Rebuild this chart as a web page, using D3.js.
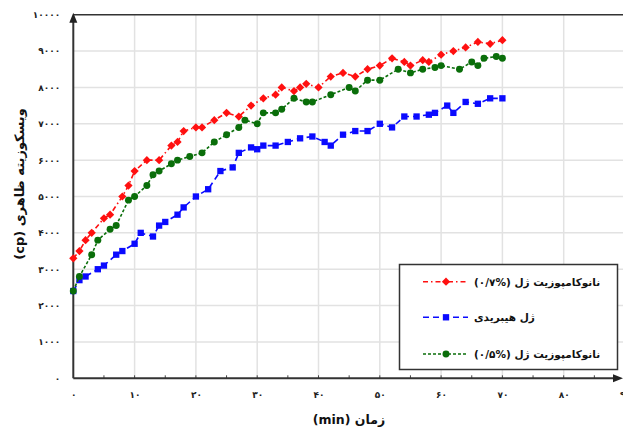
<!DOCTYPE html>
<html>
<head>
<meta charset="utf-8">
<script src="https://cdn.jsdelivr.net/npm/d3@7"></script>
<style>
	body { margin: 0; background: #fff; }
	svg { display: block; }
	text { font-family: "DejaVu Sans", sans-serif; font-weight: bold; }
</style>
</head>
<body>
<div id="chart-area"></div>
<script>

// data (time in min, viscosity in cp)
let redTime = [0,1,2,3,5,6,8,9,10,12,14,16,17,18,20,21,23,25,27,29,31,33,34,36,37,38,40,42,44,46,48,50,52,54,55,57,58,60,62,64,66,68,70];
let redVisc = [3300,3500,3800,4000,4400,4500,5000,5300,5700,6000,6000,6400,6500,6800,6900,6900,7100,7300,7200,7500,7700,7800,8000,7900,8000,8100,8000,8300,8400,8300,8500,8600,8800,8700,8600,8750,8700,8900,9000,9100,9250,9200,9300];

let blueTime = [0,1,2,4,5,7,8,10,11,13,14,15,17,18,20,22,24,26,27,29,30,31,33,35,37,39,41,42,44,46,48,50,52,54,56,58,59,61,62,64,66,68,70];
let blueVisc = [2400,2700,2800,3000,3100,3400,3500,3700,4000,3900,4200,4300,4500,4700,5000,5200,5700,5800,6200,6350,6300,6400,6400,6500,6600,6650,6500,6400,6700,6800,6800,7000,6900,7200,7200,7250,7300,7500,7300,7600,7550,7700,7700];

let greenTime = [0,1,3,4,6,7,9,10,12,13,14,16,17,19,21,23,25,27,28,30,31,33,34,36,38,39,42,45,46,48,50,53,55,57,59,60,63,65,66,67,69,70];
let greenVisc = [2400,2800,3400,3800,4100,4200,4900,5000,5300,5600,5700,5900,6000,6100,6200,6500,6700,6900,7100,7000,7300,7300,7400,7700,7600,7600,7800,8000,7900,8200,8200,8500,8400,8500,8550,8600,8500,8700,8600,8800,8850,8800];

let seriesNames = ["نانوکامپوزیت ژل (%۰/۷)", "ژل هیبریدی", "نانوکامپوزیت ژل (%۰/۵)"];

let xTicks = [0,10,20,30,40,50,60,70,80,90];
let xTickLabels = ["۰","۱۰","۲۰","۳۰","۴۰","۵۰","۶۰","۷۰","۸۰","۹۰"];
let yTicks = [0,1000,2000,3000,4000,5000,6000,7000,8000,9000,10000];
let yTickLabels = ["۰","۱۰۰۰","۲۰۰۰","۳۰۰۰","۴۰۰۰","۵۰۰۰","۶۰۰۰","۷۰۰۰","۸۰۰۰","۹۰۰۰","۱۰۰۰۰"];

let xTitle = "زمان (min)";
let yTitle = "ویسکوزیته ظاهری (cp)";

let width = 623, height = 430;

let svg = d3.select("#chart-area").append("svg")
	.attr("width", width)
	.attr("height", height);

let xScale = d3.scaleLinear().domain([0, 90]).range([73.3, 625]);
let yScale = d3.scaleLinear().domain([0, 10000]).range([378.3, 14.7]);

// gridlines
svg.append("g")
	.selectAll("line")
	.data(xTicks.slice(1))
	.enter().append("line")
	.attr("x1", d => xScale(d)).attr("x2", d => xScale(d))
	.attr("y1", yScale(0)).attr("y2", yScale(10000))
	.attr("stroke", "#e2e2e2").attr("stroke-width", 1.5);

svg.append("g")
	.selectAll("line")
	.data(yTicks.slice(1, -1))
	.enter().append("line")
	.attr("x1", xScale(0)).attr("x2", width)
	.attr("y1", d => yScale(d)).attr("y2", d => yScale(d))
	.attr("stroke", "#e2e2e2").attr("stroke-width", 1.5);

// top frame line
svg.append("line")
	.attr("x1", xScale(0)).attr("x2", width)
	.attr("y1", yScale(10000)).attr("y2", yScale(10000))
	.attr("stroke", "#333").attr("stroke-width", 1.5);

// x axis
let xAxis = d3.axisBottom(xScale)
	.tickValues(xTicks)
	.tickSize(0)
	.tickPadding(13)
	.tickFormat((d, i) => xTickLabels[i]);

let xAxisGroup = svg.append("g")
	.attr("transform", "translate(0," + yScale(0) + ")")
	.call(xAxis);
xAxisGroup.select(".domain").remove();
xAxisGroup.selectAll("text").attr("font-size", 9).attr("fill", "#222").attr("font-family", "DejaVu Sans");

// minor ticks pointing up
svg.append("g")
	.selectAll("line")
	.data(d3.range(5, 90, 5))
	.enter().append("line")
	.attr("x1", d => xScale(d)).attr("x2", d => xScale(d))
	.attr("y1", yScale(0)).attr("y2", yScale(0) - 3)
	.attr("stroke", "#444").attr("stroke-width", 1);

// y axis
let yAxis = d3.axisLeft(yScale)
	.tickValues(yTicks)
	.tickSize(0)
	.tickPadding(13)
	.tickFormat((d, i) => yTickLabels[i]);

let yAxisGroup = svg.append("g")
	.attr("transform", "translate(" + xScale(0) + ",0)")
	.call(yAxis);
yAxisGroup.select(".domain").remove();
yAxisGroup.selectAll("text").attr("font-size", 9).attr("fill", "#222").attr("font-family", "DejaVu Sans");

// axis lines with arrows
svg.append("line")
	.attr("x1", xScale(0)).attr("x2", 617)
	.attr("y1", yScale(0)).attr("y2", yScale(0))
	.attr("stroke", "#333").attr("stroke-width", 2);
svg.append("path")
	.attr("d", "M623," + yScale(0) + " L613," + (yScale(0) - 4) + " L613," + (yScale(0) + 4) + " Z")
	.attr("fill", "#222");

svg.append("line")
	.attr("x1", xScale(0)).attr("x2", xScale(0))
	.attr("y1", yScale(0)).attr("y2", yScale(10000) + 4)
	.attr("stroke", "#333").attr("stroke-width", 2);
svg.append("path")
	.attr("d", "M" + xScale(0) + "," + (yScale(10000) - 2) + " L" + (xScale(0) - 4) + "," + (yScale(10000) + 8) + " L" + (xScale(0) + 4) + "," + (yScale(10000) + 8) + " Z")
	.attr("fill", "#222");

// titles
svg.append("text")
	.attr("x", 349).attr("y", 424)
	.attr("text-anchor", "middle")
	.attr("direction", "rtl")
	.attr("font-size", 12.5)
	.attr("fill", "#111")
	.text(xTitle);

svg.append("text")
	.attr("transform", "translate(24,184) rotate(-90)")
	.attr("text-anchor", "middle")
	.attr("direction", "rtl")
	.attr("font-size", 13)
	.attr("fill", "#111")
	.text(yTitle);

// series
let series = [
	{time: redTime, visc: redVisc, color: "#ff1010", dash: "5,3,1.5,3", symbol: d3.symbolSquare, size: 34, rot: 45},
	{time: blueTime, visc: blueVisc, color: "#0a0aff", dash: "6,4", symbol: d3.symbolSquare, size: 40, rot: 0},
	{time: greenTime, visc: greenVisc, color: "#0a6e0a", dash: "3,2", symbol: d3.symbolCircle, size: 38, rot: 0}
];

let line = d3.line()
	.x(d => xScale(d[0]))
	.y(d => yScale(d[1]));

series.forEach(s => {
	let pts = s.time.map((t, i) => [t, s.visc[i]]);

	svg.append("path")
		.datum(pts)
		.attr("d", line)
		.attr("fill", "none")
		.attr("stroke", s.color)
		.attr("stroke-width", 1.6)
		.attr("stroke-dasharray", s.dash);

	svg.append("g")
		.selectAll("path")
		.data(pts)
		.enter().append("path")
		.attr("d", d3.symbol().type(s.symbol).size(s.size))
		.attr("transform", d => "translate(" + xScale(d[0]) + "," + yScale(d[1]) + ") rotate(" + s.rot + ")")
		.attr("fill", s.color);
});

// legend
let legend = svg.append("g");
legend.append("rect")
	.attr("x", 399.5).attr("y", 264.5)
	.attr("width", 218).attr("height", 105)
	.attr("fill", "#fff")
	.attr("stroke", "#333").attr("stroke-width", 1.5);

let legendY = [281.7, 317.3, 354];
series.forEach((s, i) => {
	legend.append("line")
		.attr("x1", 423).attr("x2", 468)
		.attr("y1", legendY[i]).attr("y2", legendY[i])
		.attr("stroke", s.color).attr("stroke-width", 1.6)
		.attr("stroke-dasharray", s.dash);
	legend.append("path")
		.attr("d", d3.symbol().type(s.symbol).size(s.size))
		.attr("transform", "translate(446," + legendY[i] + ") rotate(" + s.rot + ")")
		.attr("fill", s.color);
	legend.append("text")
		.attr("x", 474).attr("y", legendY[i] + 4)
		.attr("direction", "rtl")
		.attr("text-anchor", "end")
		.attr("font-size", 10.5)
		.attr("fill", "#111")
		.text(seriesNames[i]);
});

</script>
</body>
</html>
